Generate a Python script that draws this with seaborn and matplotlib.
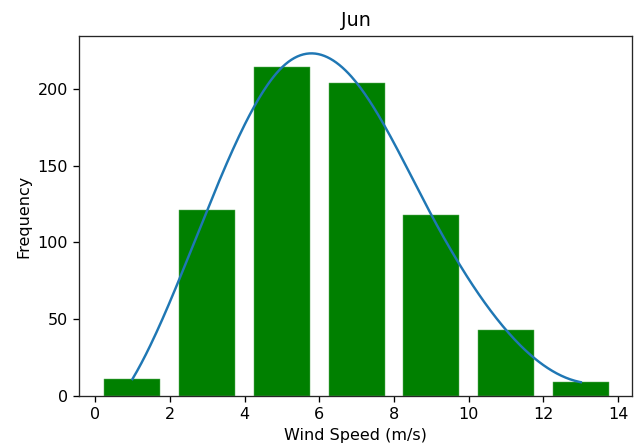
import numpy as np
import pandas as pd
import matplotlib
matplotlib.use("Agg")
import matplotlib.pyplot as plt
import seaborn as sns

# Wind speed bin centres (m/s) and the number of June observations in each bin
bin_centers = [1, 3, 5, 7, 9, 11, 13]
frequencies = [11, 121, 214, 204, 118, 43, 9]
x_ticks = [0, 2, 4, 6, 8, 10, 12, 14]
y_ticks = [0, 50, 100, 150, 200]


def cubic_spline(x, y, x_new):
    """Not-a-knot cubic spline through (x, y), evaluated at x_new."""
    x = np.asarray(x, float)
    y = np.asarray(y, float)
    n = len(x)
    h = np.diff(x)
    A = np.zeros((n, n))
    b = np.zeros(n)
    # not-a-knot at the second and second-to-last knots
    A[0, 0], A[0, 1], A[0, 2] = h[1], -(h[0] + h[1]), h[0]
    A[-1, -3], A[-1, -2], A[-1, -1] = h[-1], -(h[-2] + h[-1]), h[-2]
    for i in range(1, n - 1):
        A[i, i - 1] = h[i - 1]
        A[i, i] = 2 * (h[i - 1] + h[i])
        A[i, i + 1] = h[i]
        b[i] = 6 * ((y[i + 1] - y[i]) / h[i] - (y[i] - y[i - 1]) / h[i - 1])
    M = np.linalg.solve(A, b)
    idx = np.clip(np.searchsorted(x, x_new) - 1, 0, n - 2)
    x0, x1 = x[idx], x[idx + 1]
    hi = x1 - x0
    return (M[idx] * (x1 - x_new) ** 3 / (6 * hi)
            + M[idx + 1] * (x_new - x0) ** 3 / (6 * hi)
            + (y[idx] / hi - M[idx] * hi / 6) * (x1 - x_new)
            + (y[idx + 1] / hi - M[idx + 1] * hi / 6) * (x_new - x0))


plt.rcParams.update({
    "axes.linewidth": 0.95,
    "axes.edgecolor": "#262626",
    "xtick.major.size": 4.0,
    "ytick.major.size": 4.0,
    "xtick.major.width": 0.95,
    "ytick.major.width": 0.95,
    "xtick.major.pad": 4.0,
    "ytick.major.pad": 4.0,
    "axes.titlepad": 7.0,
    "axes.labelpad": 4.5,
})

bars = pd.DataFrame({"speed": bin_centers, "count": frequencies})
smooth_x = np.linspace(min(bin_centers), max(bin_centers), 300)
smooth = pd.DataFrame({"speed": smooth_x,
                       "count": cubic_spline(bin_centers, frequencies, smooth_x)})

fig = plt.figure(figsize=(6.36, 4.46), dpi=100)
ax = fig.add_axes([0.1242, 0.1121, 0.8695, 0.8072])

sns.barplot(data=bars, x="speed", y="count", native_scale=True, width=0.75,
            color="green", saturation=1, edgecolor="#5fae5f", linewidth=0.35,
            ax=ax)
sns.lineplot(data=smooth, x="speed", y="count", color="#1f77b4",
             linewidth=1.75, ax=ax)

ax.set_xlim(-0.43, 14.37)
ax.set_ylim(0, 234.5)
ax.set_xticks(x_ticks)
ax.set_xticklabels([str(t) for t in x_ticks])
ax.set_yticks(y_ticks)
ax.tick_params(labelsize=11.5)
ax.set_title("Jun", fontsize=13.8)
ax.set_xlabel("Wind Speed (m/s)", fontsize=11.5)
ax.set_ylabel("Frequency", fontsize=11.5)

fig.savefig("out.png", dpi=100)
